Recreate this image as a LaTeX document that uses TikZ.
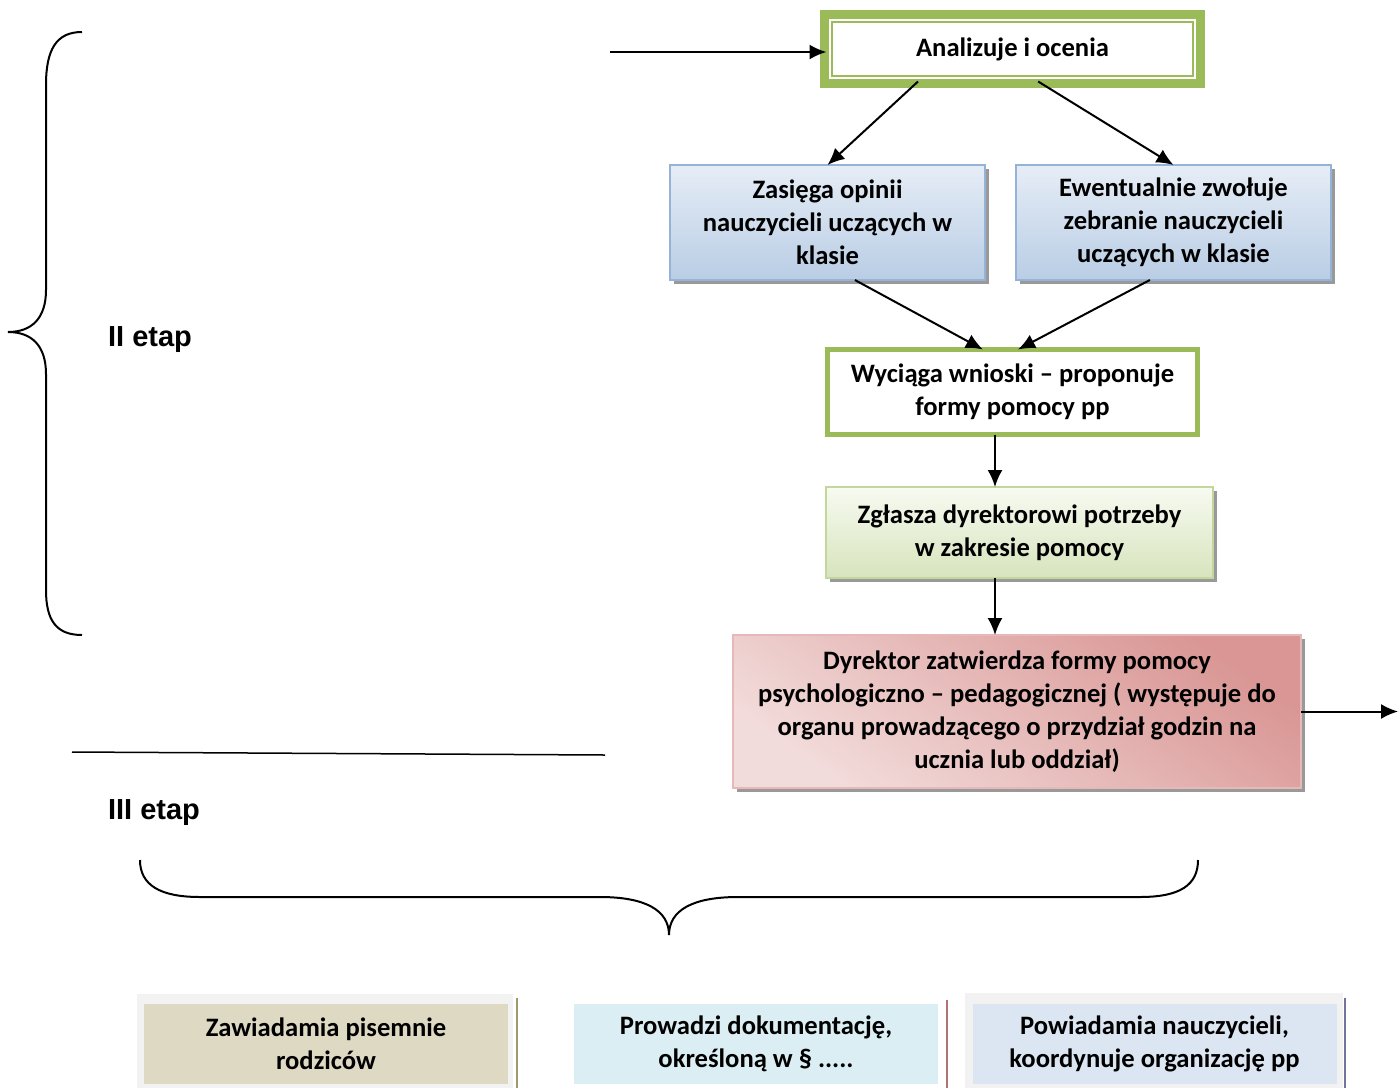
\documentclass[tikz,border=0pt]{standalone}
\usepackage{fontspec}
\setmainfont{Carlito}
\newfontfamily\etapfont{Liberation Sans}
\usepackage{xcolor}
\usetikzlibrary{calc}
\usetikzlibrary{shadows}
\usetikzlibrary{arrows.meta}
\tikzset{>={Latex[length=8.5pt,width=7.5pt]}}
\definecolor{zielony}{HTML}{9BBB59}
\definecolor{niebRamka}{HTML}{95B3D7}
\definecolor{niebGora}{HTML}{E6EDF6}
\definecolor{niebDol}{HTML}{B9CDE5}
\definecolor{zielGora}{HTML}{F7FAF1}
\definecolor{zielDol}{HTML}{D7E4BD}
\definecolor{zielRamka}{HTML}{C3D69B}
\definecolor{rozJasny}{HTML}{F2DCDB}
\definecolor{rozCiemny}{HTML}{D99694}
\definecolor{rozRamka}{HTML}{E6B9B8}
\definecolor{bezowy}{HTML}{DDD9C3}
\definecolor{blekit}{HTML}{DBEEF3}
\definecolor{szaroNieb}{HTML}{DCE6F2}
\definecolor{tlo}{HTML}{F2F2F2}
\tikzset{
  krok/.style={rectangle, align=center, inner sep=0pt, outer sep=0pt,
    font=\fontsize{13.3}{16.4}\selectfont\bfseries},
  cien/.style={drop shadow={shadow xshift=2pt, shadow yshift=-2pt, fill=black!40, opacity=1}},
  ramkaGruba/.style={krok, draw=zielony, fill=white, line width=6.5pt,
    minimum width=186pt, minimum height=32.5pt},
  niebieski/.style={krok, cien, draw=niebRamka, line width=1pt, top color=niebGora,
    bottom color=niebDol, minimum width=157.5pt, minimum height=57.5pt},
  wniosek/.style={krok, draw=zielony, fill=white, line width=2.5pt,
    minimum width=185pt, minimum height=42.5pt},
  zgloszenie/.style={krok, cien, draw=zielRamka, line width=0.8pt, top color=zielGora,
    bottom color=zielDol, minimum width=193.5pt, minimum height=45.5pt},
  dyrektor/.style={krok, cien, draw=rozRamka, line width=1pt, top color=rozCiemny,
    bottom color=rozJasny, shading angle=-35, minimum width=284pt, minimum height=76.5pt},
  dolny/.style={krok, minimum width=182pt, minimum height=40pt},
  etap/.style={font=\etapfont\bfseries\fontsize{14.5}{17}\selectfont, inner sep=0pt},
  strzalka/.style={->, line width=1pt}
}

\begin{document}
\begin{tikzpicture}[x=0.5pt,y=-0.5pt]
  \useasboundingbox (0,0) rectangle (1398,1088);
  % II etap
  \node[ramkaGruba] (anal) at (1012.5,49) {Analizuje i ocenia};
  \draw[white, line width=0.75pt] ([shift={(1.75pt,-1.75pt)}]anal.north west)
    rectangle ([shift={(-1.75pt,1.75pt)}]anal.south east);
  \node[niebieski] (zas) at (827.5,222.5) {Zasięga opinii\\ nauczycieli uczących w\\ klasie};
  \node[niebieski] (ewe) at (1173.5,222.5) {Ewentualnie zwołuje\\ zebranie nauczycieli\\ uczących w klasie};
  \node[wniosek] (wyc) at (1012.5,392) {Wyciąga wnioski -- proponuje\\ formy pomocy pp};
  \node[zgloszenie] (zgl) at (1019.5,532.5) {Zgłasza dyrektorowi potrzeby\\ w zakresie pomocy};
  \node[dyrektor] (dyr) at (1017,711.5) {Dyrektor zatwierdza formy pomocy\\
    psychologiczno -- pedagogicznej ( występuje do\\ organu prowadzącego o przydział godzin na\\
    ucznia lub oddział)};

  \coordinate (wejscie) at (610,52);
  \coordinate (wyjscie) at (1398,711.5);
  \coordinate (pion) at (995,0);
  \draw[strzalka] (wejscie) -- (wejscie -| anal.west);
  \draw[strzalka] ($(anal.south west)!0.246!(anal.south east)$) -- (zas.north);
  \draw[strzalka] ($(anal.south west)!0.569!(anal.south east)$) -- (ewe.north);
  \draw[strzalka] ($(zas.south west)!0.587!(zas.south east)$) -- ($(wyc.north west)!0.42!(wyc.north east)$);
  \draw[strzalka] ($(ewe.south west)!0.425!(ewe.south east)$) -- ($(wyc.north west)!0.515!(wyc.north east)$);
  \draw[strzalka] (wyc.south -| pion) -- (zgl.north -| pion);
  \draw[strzalka] (zgl.south -| pion) -- (dyr.north -| pion);
  \draw[strzalka] (dyr.east) -- (wyjscie);

  \node[etap] (etap2) at (150,340) {II etap};
  \draw[line width=1pt] (82,32) .. controls (56,32) and (46,50) .. (46,85) -- (46,290)
    .. controls (46,318) and (32,332) .. (8,332) .. controls (32,332) and (46,346) .. (46,374)
    -- (46,590) .. controls (46,620) and (56,635) .. (82,635);

  % III etap
  \draw[line width=0.75pt] (72,752) -- (605,755);
  \node[etap] (etap3) at (154,813) {III etap};
  \draw[line width=1pt] (140,860) .. controls (140,885) and (160,897) .. (200,897) -- (600,897)
    .. controls (645,897) and (669,910) .. (669,935) .. controls (669,910) and (693,897) .. (738,897)
    -- (1140,897) .. controls (1180,897) and (1198,885) .. (1198,860);

  \fill[tlo] (137,994) rectangle (513,1088);
  \fill[tlo] (965,993) rectangle (1343,1088);
  \node[dolny, fill=bezowy] (zaw) at (326,1044) {Zawiadamia pisemnie\\ rodziców};
  \node[dolny, fill=blekit] (pro) at (756,1044) {Prowadzi dokumentację,\\ określoną w \S{} .....};
  \node[dolny, fill=szaroNieb] (pow) at (1154.5,1044) {Powiadamia nauczycieli,\\ koordynuje organizację pp};
  \draw[line width=1.2pt, black!45!olive!60] (517,998) -- (517,1088);
  \draw[line width=1.2pt, red!45!black!55] (947,1000) -- (947,1088);
  \draw[line width=1.2pt, blue!30!black!55] (1345,998) -- (1345,1088);
\end{tikzpicture}
\end{document}
